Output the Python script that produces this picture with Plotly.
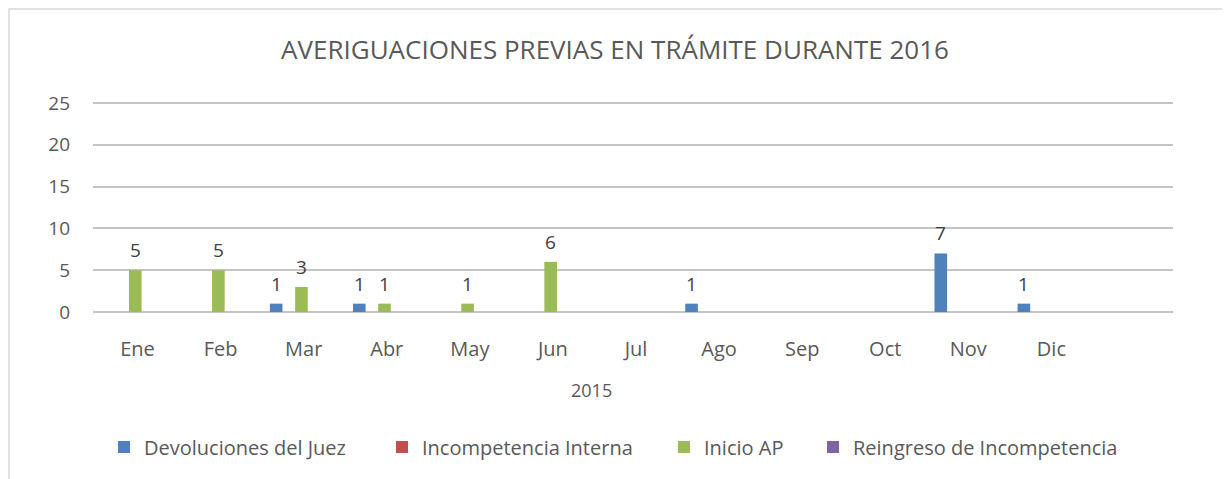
import plotly.graph_objects as go

# ---- data ----
months = ["Ene", "Feb", "Mar", "Abr", "May", "Jun", "Jul", "Ago", "Sep", "Oct", "Nov", "Dic"]
devoluciones = [None, None, 1, 1, None, None, None, 1, None, None, 7, 1]
incompetencia = [None] * 12
inicio_ap = [5, 5, 3, 1, 1, 6, None, None, None, None, None, None]
reingreso = [None] * 12

series_names = ["Devoluciones del Juez", "Incompetencia Interna", "Inicio AP",
                "Reingreso de Incompetencia"]
series_values = [devoluciones, incompetencia, inicio_ap, reingreso]
colors = ["#4F81BD", "#C0504D", "#9BBB59", "#8064A2"]

title_text = "AVERIGUACIONES PREVIAS EN TRÁMITE DURANTE 2016"
axis_title = "2015"
y_max_tick = 25

# ---- layout geometry (screen pixels; page body has an 8px margin) ----
OFF = 8
W, H = 1230 - OFF, 479 - OFF
Y0_PX, Y25_PX = 312, 103          # screen y of value 0 and of value 25
PT_SCREEN = 99                    # plot top (a little above the 25 gridline)
PL, PR = 93 - OFF, 1173 - OFF
PT, PB = PT_SCREEN - OFF, Y0_PX - OFF
y_top = y_max_tick * (Y0_PX - PT_SCREEN) / (Y0_PX - Y25_PX)

FONT = "Open Sans"
TXT = "#595959"
bar_w = 0.152
offsets = [-0.371, -0.219, -0.067, 0.085]


def px2paper_x(px):
    return (px - OFF - PL) / (PR - PL)


def px2paper_y(py):
    return (PB - (py - OFF)) / (PB - PT)


x_idx = list(range(len(months)))

fig = go.Figure()
legend_ids = ["legend", "legend2", "legend3", "legend4"]
for name, vals, col, off, lg in zip(series_names, series_values, colors, offsets, legend_ids):
    fig.add_trace(go.Bar(
        x=x_idx, y=vals, name=name, marker=dict(color=col, line=dict(width=0)),
        width=bar_w, offset=off, legend=lg, showlegend=True,
    ))

annotations = []
for vals, off in zip(series_values, offsets):
    for i, v in enumerate(vals):
        if v is None:
            continue
        annotations.append(dict(
            x=i + off + bar_w / 2, y=v, xref="x", yref="y", text=str(v),
            showarrow=False, yanchor="middle", yshift=20,
            font=dict(family=FONT, size=19, color="#404040"),
        ))

annotations.append(dict(
    x=5.5, xref="x", y=px2paper_y(390), yref="paper", text=axis_title,
    showarrow=False, yanchor="middle",
    font=dict(family=FONT, size=18, color=TXT),
))

legend_px = [104, 382, 664, 813]
legends = {}
for lg, lx in zip(legend_ids, legend_px):
    legends[lg] = dict(
        orientation="h", x=px2paper_x(lx), xanchor="left",
        y=px2paper_y(447), yanchor="middle",
        font=dict(family=FONT, size=20, color=TXT),
        bgcolor="rgba(0,0,0,0)", borderwidth=0,
    )

fig.update_layout(
    width=W, height=H,
    margin=dict(l=PL, r=W - PR, t=PT, b=H - PB, pad=0),
    paper_bgcolor="white", plot_bgcolor="white",
    barmode="overlay",
    title=dict(text=title_text, x=(615 - OFF) / W, xref="container", xanchor="center",
               y=1 - (50 - OFF) / H, yref="container", yanchor="middle",
               font=dict(family=FONT, size=26, color=TXT)),
    xaxis=dict(
        range=[-0.5, 12.5], tickmode="array", tickvals=x_idx, ticktext=months,
        showgrid=False, zeroline=False, showline=False, ticks="",
        ticklabelstandoff=23, ticklabelshift=3,
        tickfont=dict(family=FONT, size=20, color=TXT), fixedrange=True,
    ),
    yaxis=dict(
        range=[0, y_top], dtick=5, tick0=0, showgrid=True, gridcolor="#C4C4C4",
        gridwidth=2, zeroline=True, zerolinecolor="#C4C4C4", zerolinewidth=2,
        showline=False, ticks="", ticklabelstandoff=22,
        tickfont=dict(family=FONT, size=19, color=TXT), fixedrange=True,
    ),
    annotations=annotations,
    shapes=[dict(
        type="rect", xref="paper", yref="paper",
        x0=px2paper_x(OFF + 1), x1=px2paper_x(1227),
        y0=px2paper_y(490), y1=px2paper_y(9),
        line=dict(color="#D9D9D9", width=1.5), fillcolor="rgba(0,0,0,0)",
        layer="below",
    )],
    **legends,
)

fig.write_html("out.html")
